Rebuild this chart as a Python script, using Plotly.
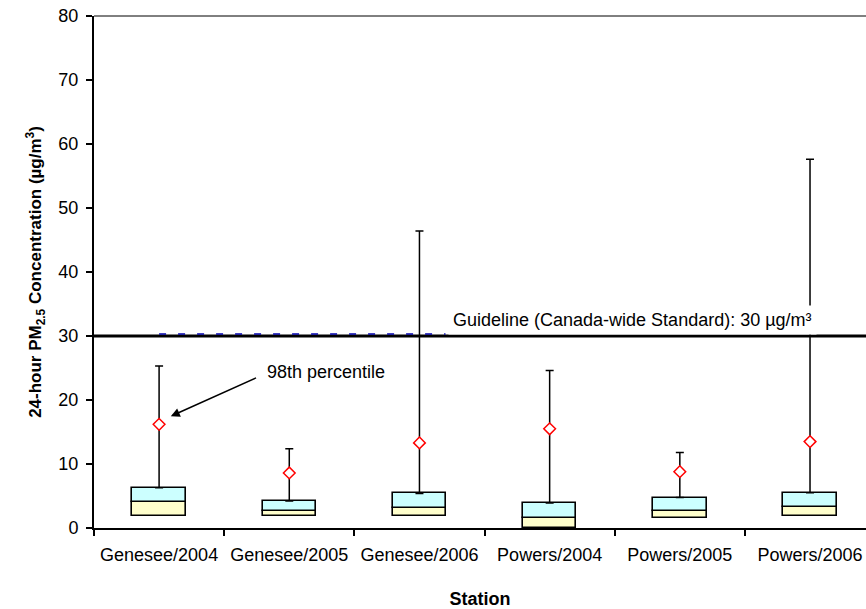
import plotly.graph_objects as go

stations = ["Genesee/2004", "Genesee/2005", "Genesee/2006",
            "Powers/2004", "Powers/2005", "Powers/2006"]
box_low = [1.8, 1.8, 1.8, 0.0, 1.5, 1.8]
median = [4.0, 2.7, 3.2, 1.6, 2.6, 3.3]
box_high = [6.3, 4.2, 5.4, 3.9, 4.75, 5.5]
maximum = [25.3, 12.4, 46.4, 24.6, 11.8, 57.6]
p98 = [16.2, 8.6, 13.3, 15.5, 8.8, 13.5]
guideline = 30
y_ticks = [0, 10, 20, 30, 40, 50, 60, 70, 80]

FONT = "Liberation Sans, Arial, sans-serif"

fig = go.Figure()

fig.add_trace(go.Bar(
    x=stations, y=[m - l for m, l in zip(median, box_low)], base=box_low,
    width=0.41, marker=dict(color="#FFFFCC", line=dict(color="black", width=1.6)),
    showlegend=False, hoverinfo="skip"))
fig.add_trace(go.Bar(
    x=stations, y=[h - m for h, m in zip(box_high, median)], base=median,
    width=0.41, marker=dict(color="#CCFFFF", line=dict(color="black", width=1.6)),
    showlegend=False, hoverinfo="skip"))

fig.add_trace(go.Scatter(
    x=stations, y=box_high, mode="markers",
    marker=dict(size=1, color="rgba(0,0,0,0)"),
    error_y=dict(type="data", symmetric=False,
                 array=[mx - h for mx, h in zip(maximum, box_high)],
                 arrayminus=[0] * len(stations),
                 color="black", thickness=1.5, width=4),
    showlegend=False, hoverinfo="skip"))

fig.add_trace(go.Scatter(
    x=stations, y=p98, mode="markers",
    marker=dict(symbol="diamond", size=9, color="white",
                line=dict(color="red", width=1.5)),
    showlegend=False))

# guideline, then the blue dashed line on its upper edge
fig.add_shape(type="line", xref="paper", yref="y", x0=0, x1=1,
              y0=guideline, y1=guideline,
              line=dict(color="black", width=3), layer="above")
fig.add_shape(type="line", xref="x", yref="y", x0=0, x1=2.2,
              y0=guideline + 0.3, y1=guideline + 0.3,
              line=dict(color="#0000AA", width=1.5, dash="7px,12px"), layer="above")
# top border
fig.add_shape(type="line", xref="paper", yref="paper", x0=0, x1=1, y0=1, y1=1,
              line=dict(color="black", width=1), layer="above")

fig.add_annotation(
    text="Guideline (Canada-wide Standard): 30 µg/m³",
    xref="x", yref="y", x=2.22, y=guideline, xanchor="left", yanchor="bottom",
    yshift=1.5, showarrow=False, bgcolor="white", borderpad=4,
    font=dict(family=FONT, size=18, color="black"))

fig.add_annotation(
    text=" ", xref="x", yref="y", x=0.09, y=17.46,
    axref="x", ayref="y", ax=0.76, ay=23.6,
    showarrow=True, arrowhead=2, arrowsize=1.2, arrowwidth=1.5, arrowcolor="black",
    font=dict(size=2))
fig.add_annotation(
    text="98th percentile", xref="x", yref="y", x=0.81, y=24.3,
    xanchor="left", yanchor="middle", showarrow=False,
    font=dict(family=FONT, size=18, color="black"))

fig.update_layout(
    width=866, height=609,
    margin=dict(l=94, r=0, t=16, b=81, autoexpand=False),
    paper_bgcolor="white", plot_bgcolor="white",
    barmode="overlay", bargap=0,
    font=dict(family=FONT, size=18, color="black"),
    showlegend=False,
)
fig.update_xaxes(
    type="category", categoryorder="array", categoryarray=stations,
    range=[-0.5, 5.43], tickson="boundaries",
    ticks="outside", ticklen=6, tickwidth=1.5, tickcolor="black",
    showline=True, linecolor="black", linewidth=2, showgrid=False, zeroline=False,
    tickfont=dict(family=FONT, size=18), ticklabelstandoff=9,
    title=dict(text="<b>Station</b>", font=dict(family=FONT, size=18), standoff=32),
    automargin=False,
)
fig.update_yaxes(
    range=[0, 80], tickvals=y_ticks,
    ticks="outside", ticklen=6, tickwidth=1.5, tickcolor="black",
    showline=True, linecolor="black", linewidth=2, showgrid=False, zeroline=False,
    tickfont=dict(family=FONT, size=18), ticklabelstandoff=4,
    title=dict(text="<b>24-hour PM<sub>2.5</sub> Concentration (µg/m<sup>3</sup>)</b>",
               font=dict(family=FONT, size=17), standoff=12),
    automargin=False,
)

fig.write_html("out.html", config={"displayModeBar": False},
               post_script="document.body.style.margin='0px';document.body.style.overflow='hidden';")
